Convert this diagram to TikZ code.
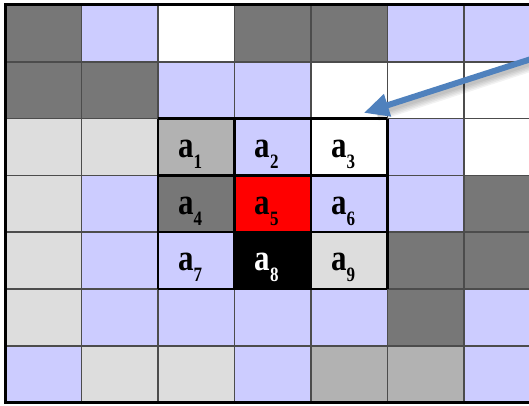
\documentclass[tikz,border=0pt]{standalone}
\usepackage{fontspec}
\setmainfont{Liberation Serif}
\usetikzlibrary{arrows.meta}
\definecolor{dk}{HTML}{777777}
\definecolor{md}{HTML}{B2B2B2}
\definecolor{lt}{HTML}{DDDDDD}
\definecolor{lav}{HTML}{CCCCFF}
\definecolor{pointblue}{HTML}{4F81BD}
\newcommand{\cellname}[1]{\scalebox{1}[1.2]{\fontsize{31}{31}\selectfont\bfseries a\raisebox{-.3em}{\fontsize{17}{17}\selectfont #1}}}
\tikzset{
  gridline/.style={black!70,line width=1.6pt},
  blockline/.style={black,line width=2.4pt},
  lbl/.style={anchor=base west,inner sep=0pt},
  pointer/.style={pointblue,line width=6pt,-{Triangle[length=25pt,width=22pt]}}
}
\begin{document}
\begin{tikzpicture}[x=76.5pt,y=-56.8pt]
\useasboundingbox (-0.0654,-0.088) rectangle (6.85,7.06);
\clip (-0.0654,-0.088) rectangle (6.85,7.06);
\fill[white] (-0.0654,-0.088) rectangle (6.85,7.06);
% cell colours, row by row
\foreach \row [count=\j from 0] in {
  {dk,lav,white,dk,dk,lav,lav},
  {dk,dk,lav,lav,white,white,white},
  {lt,lt,md,lav,white,lav,white},
  {lt,lav,dk,red,lav,lav,dk},
  {lt,lav,lav,black,lt,dk,dk},
  {lt,lav,lav,lav,lav,dk,lav},
  {lav,lt,lt,lav,md,md,lav}}
  \foreach \c [count=\i from 0] in \row {\fill[\c] (\i,\j) rectangle ++(1,1);}
\foreach \k in {1,...,6}{
  \draw[gridline] (\k,0) -- (\k,7);
  \draw[gridline] (0,\k) -- (7,\k);}
\foreach \k in {2,...,5}{
  \draw[blockline] (\k,2) -- (\k,5);
  \draw[blockline] (2,\k) -- (5,\k);}
\draw[black,line width=3pt] (0,0) rectangle (7,7);
% window labels
\foreach \n [count=\k from 0] in {1,...,9}{
  \pgfmathtruncatemacro{\ci}{2+mod(\k,3)}
  \pgfmathtruncatemacro{\cj}{2+int(\k/3)}
  \ifnum\n=8
    \node[lbl,text=white] (a\n) at (\ci+0.26,\cj+0.68) {\cellname{\n}};
  \else
    \node[lbl] (a\n) at (\ci+0.26,\cj+0.68) {\cellname{\n}};
  \fi}
\coordinate (tail) at (7.25,0.79);
\coordinate (tip) at (4.69,1.90);
\foreach \d in {1,...,5}
  \draw[black,opacity=.05,line width=6pt+\d pt,shorten >=14pt] ([yshift=-2pt-\d pt]tail) -- ([yshift=-2pt-\d pt]tip);
\draw[pointer] (tail) -- (tip);
\end{tikzpicture}
\end{document}
